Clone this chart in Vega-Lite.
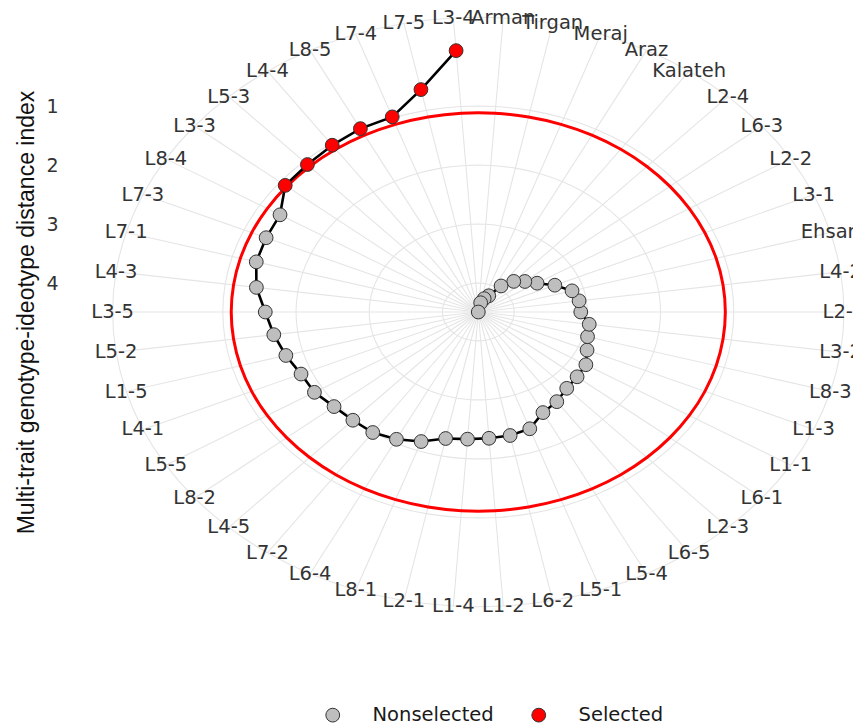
{
  "$schema": "https://vega.github.io/schema/vega-lite/v6.json",
  "autosize": {"type": "none"},
  "width": 785,
  "height": 680,
  "padding": {"left": 68, "top": 0, "right": 0, "bottom": 45},
  "background": "white",
  "config": {"view": {"stroke": null}, "font": "DejaVu Sans"},
  "data": {"values": [
    {"Genotype": "L3-4", "MGIDI": 0.05, "Class": "Selected"},
    {"Genotype": "L7-5", "MGIDI": 0.64, "Class": "Selected"},
    {"Genotype": "L7-4", "MGIDI": 0.98, "Class": "Selected"},
    {"Genotype": "L8-5", "MGIDI": 0.99, "Class": "Selected"},
    {"Genotype": "L4-4", "MGIDI": 1.03, "Class": "Selected"},
    {"Genotype": "L5-3", "MGIDI": 1.07, "Class": "Selected"},
    {"Genotype": "L3-3", "MGIDI": 1.09, "Class": "Selected"},
    {"Genotype": "L8-4", "MGIDI": 1.32, "Class": "Nonselected"},
    {"Genotype": "L7-3", "MGIDI": 1.33, "Class": "Nonselected"},
    {"Genotype": "L7-1", "MGIDI": 1.34, "Class": "Nonselected"},
    {"Genotype": "L4-3", "MGIDI": 1.43, "Class": "Nonselected"},
    {"Genotype": "L3-5", "MGIDI": 1.58, "Class": "Nonselected"},
    {"Genotype": "L5-2", "MGIDI": 1.67, "Class": "Nonselected"},
    {"Genotype": "L1-5", "MGIDI": 1.76, "Class": "Nonselected"},
    {"Genotype": "L4-1", "MGIDI": 1.85, "Class": "Nonselected"},
    {"Genotype": "L5-5", "MGIDI": 1.87, "Class": "Nonselected"},
    {"Genotype": "L8-2", "MGIDI": 1.95, "Class": "Nonselected"},
    {"Genotype": "L4-5", "MGIDI": 1.98, "Class": "Nonselected"},
    {"Genotype": "L7-2", "MGIDI": 1.99, "Class": "Nonselected"},
    {"Genotype": "L6-4", "MGIDI": 2.06, "Class": "Nonselected"},
    {"Genotype": "L8-1", "MGIDI": 2.16, "Class": "Nonselected"},
    {"Genotype": "L2-1", "MGIDI": 2.30, "Class": "Nonselected"},
    {"Genotype": "L1-4", "MGIDI": 2.33, "Class": "Nonselected"},
    {"Genotype": "L1-2", "MGIDI": 2.345, "Class": "Nonselected"},
    {"Genotype": "L6-2", "MGIDI": 2.352, "Class": "Nonselected"},
    {"Genotype": "L5-1", "MGIDI": 2.39, "Class": "Nonselected"},
    {"Genotype": "L5-4", "MGIDI": 2.57, "Class": "Nonselected"},
    {"Genotype": "L6-5", "MGIDI": 2.63, "Class": "Nonselected"},
    {"Genotype": "L2-3", "MGIDI": 2.72, "Class": "Nonselected"},
    {"Genotype": "L6-1", "MGIDI": 2.75, "Class": "Nonselected"},
    {"Genotype": "L1-1", "MGIDI": 2.77, "Class": "Nonselected"},
    {"Genotype": "L1-3", "MGIDI": 2.87, "Class": "Nonselected"},
    {"Genotype": "L8-3", "MGIDI": 2.94, "Class": "Nonselected"},
    {"Genotype": "L3-2", "MGIDI": 2.96, "Class": "Nonselected"},
    {"Genotype": "L2-5", "MGIDI": 3.09, "Class": "Nonselected"},
    {"Genotype": "L4-2", "MGIDI": 3.10, "Class": "Nonselected"},
    {"Genotype": "Ehsan", "MGIDI": 3.16, "Class": "Nonselected"},
    {"Genotype": "L3-1", "MGIDI": 3.35, "Class": "Nonselected"},
    {"Genotype": "L2-2", "MGIDI": 3.55, "Class": "Nonselected"},
    {"Genotype": "L6-3", "MGIDI": 3.67, "Class": "Nonselected"},
    {"Genotype": "L2-4", "MGIDI": 3.78, "Class": "Nonselected"},
    {"Genotype": "Kalateh", "MGIDI": 3.95, "Class": "Nonselected"},
    {"Genotype": "Araz", "MGIDI": 4.18, "Class": "Nonselected"},
    {"Genotype": "Meraj", "MGIDI": 4.25, "Class": "Nonselected"},
    {"Genotype": "Tirgan", "MGIDI": 4.33, "Class": "Nonselected"},
    {"Genotype": "Arman", "MGIDI": 4.49, "Class": "Nonselected"}
  ]},
  "transform": [
    {"joinaggregate": [
      {"op": "count", "as": "n"},
      {"op": "max", "field": "MGIDI", "as": "maxM"},
      {"op": "min", "field": "MGIDI", "as": "minM"}
    ]},
    {"window": [{"op": "row_number", "as": "idx"}], "sort": [{"field": "MGIDI", "order": "ascending"}]},
    {"calculate": "-2*PI*(datum.idx-0.5)/datum.n", "as": "th"},
    {"calculate": "datum.maxM-datum.MGIDI", "as": "r"},
    {"calculate": "1.125*(datum.maxM-datum.minM)", "as": "rOut"},
    {"calculate": "datum.rOut*sin(datum.th)", "as": "lx"},
    {"calculate": "datum.rOut*cos(datum.th)", "as": "ly"}
  ],
  "encoding": {
    "x": {"field": "X", "type": "quantitative", "scale": {"domain": [-5.605, 5.119], "nice": false, "zero": false}, "axis": null},
    "y": {"field": "Y", "type": "quantitative", "scale": {"domain": [-6.237, 5.288], "nice": false, "zero": false},
      "axis": {"values": [3.49, 2.49, 1.49, 0.49], "labelExpr": "round(4.49 - datum.value)", "domain": false, "ticks": false, "tickSize": 0, "grid": false,
        "labelPadding": 10, "labelFont": "DejaVu Sans", "labelFontSize": 19, "labelColor": "#333333", "labelBaseline": "middle",
        "title": "Multi-trait genotype-ideotype distance index", "titleFont": "Liberation Sans", "titleFontSize": 23, "titleFontWeight": "normal",
        "titleColor": "#111111", "titleX": -35, "titleY": 312, "titleAngle": -90, "titleAlign": "center", "titleBaseline": "alphabetic"}}
  },
  "layer": [
    {
      "transform": [
        {"calculate": "0", "as": "X"},
        {"calculate": "0", "as": "Y"}
      ],
      "mark": {"type": "rule", "color": "#E5E5E5", "strokeWidth": 1.1},
      "encoding": {
        "x2": {"field": "lx"},
        "y2": {"field": "ly"}
      }
    },
    {
      "transform": [
        {"calculate": "[datum.maxM-1, datum.maxM-2, datum.maxM-3, datum.maxM-4, datum.rOut]", "as": "rings"},
        {"flatten": ["rings"], "as": ["ring"]},
        {"calculate": "datum.ring*sin(datum.th)", "as": "X"},
        {"calculate": "datum.ring*cos(datum.th)", "as": "Y"}
      ],
      "mark": {"type": "line", "color": "#E5E5E5", "strokeWidth": 1.1, "interpolate": "cardinal-closed"},
      "encoding": {
        "detail": {"field": "ring", "type": "nominal"},
        "order": {"field": "idx", "type": "quantitative"}
      }
    },
    {
      "transform": [
        {"calculate": "(datum.maxM-1.115)*sin(datum.th)", "as": "X"},
        {"calculate": "(datum.maxM-1.115)*cos(datum.th)", "as": "Y"}
      ],
      "mark": {"type": "line", "color": "#FF0000", "strokeWidth": 3, "interpolate": "cardinal-closed"},
      "encoding": {
        "order": {"field": "idx", "type": "quantitative"}
      }
    },
    {
      "transform": [
        {"calculate": "datum.r*sin(datum.th)", "as": "X"},
        {"calculate": "datum.r*cos(datum.th)", "as": "Y"}
      ],
      "mark": {"type": "line", "color": "#000000", "strokeWidth": 2.6},
      "encoding": {
        "order": {"field": "idx", "type": "quantitative"}
      }
    },
    {
      "transform": [
        {"calculate": "datum.r*sin(datum.th)", "as": "X"},
        {"calculate": "datum.r*cos(datum.th)", "as": "Y"}
      ],
      "mark": {"type": "point", "shape": "circle", "filled": true, "size": 190, "stroke": "#333333", "strokeWidth": 1, "opacity": 1},
      "encoding": {
        "fill": {"field": "Class", "type": "nominal",
          "scale": {"domain": ["Nonselected", "Selected"], "range": ["#BEBEBE", "#FF0000"]},
          "legend": {"title": null, "orient": "none", "direction": "horizontal", "legendX": 255, "legendY": 705, "padding": 0,
            "labelFont": "DejaVu Sans", "labelFontSize": 19.5, "labelColor": "#1a1a1a", "symbolType": "circle", "symbolSize": 190,
            "symbolStrokeColor": "#333333", "symbolStrokeWidth": 1, "labelOffset": 30, "columnPadding": 35}}
      }
    },
    {
      "transform": [
        {"calculate": "datum.lx", "as": "X"},
        {"calculate": "datum.ly", "as": "Y"}
      ],
      "mark": {"type": "text", "align": "center", "baseline": "middle", "font": "DejaVu Sans", "fontSize": 19.5, "color": "#333333"},
      "encoding": {
        "text": {"field": "Genotype", "type": "nominal"}
      }
    }
  ]
}
